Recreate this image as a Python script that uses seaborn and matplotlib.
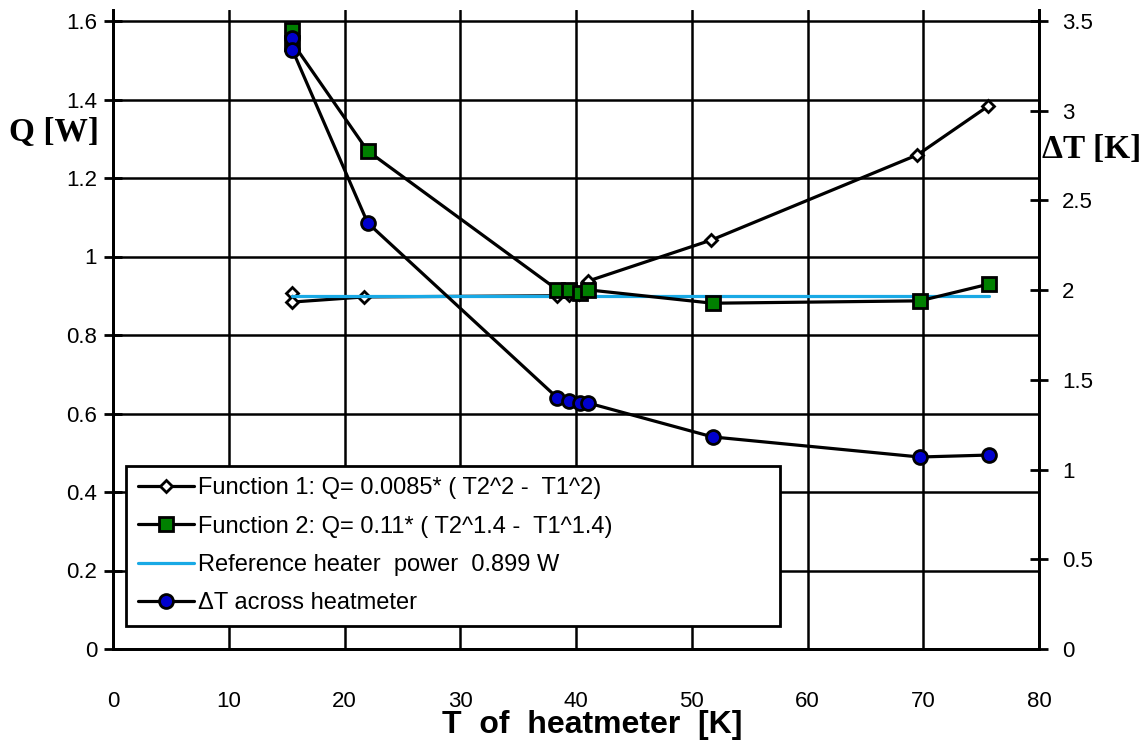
import numpy as np
import matplotlib
matplotlib.use('Agg')
import matplotlib.pyplot as plt
import seaborn as sns
from matplotlib.font_manager import FontProperties

# Datos
T_f1 = [15.5, 15.5, 21.7, 38.4, 39.4, 40.3, 41.0, 51.7, 69.5, 75.6]
Q_f1 = [0.907, 0.884, 0.897, 0.900, 0.903, 0.905, 0.937, 1.042, 1.259, 1.383]

T_f2 = [15.5, 15.5, 22.0, 38.4, 39.4, 40.35, 41.05, 51.8, 69.7, 75.7]
Q_f2 = [1.578, 1.545, 1.269, 0.915, 0.915, 0.907, 0.915, 0.881, 0.887, 0.930]

T_ref = [15.5, 75.7]
Q_ref = [0.899, 0.899]

T_dt = [15.5, 15.5, 22.0, 38.4, 39.4, 40.35, 41.05, 51.8, 69.7, 75.7]
dT = [3.406, 3.339, 2.375, 1.399, 1.383, 1.371, 1.371, 1.182, 1.070, 1.081]

x_ticks = [0, 10, 20, 30, 40, 50, 60, 70, 80]
q_ticks = [0, 0.2, 0.4, 0.6, 0.8, 1.0, 1.2, 1.4, 1.6]
q_labels = ['0', '0.2', '0.4', '0.6', '0.8', '1', '1.2', '1.4', '1.6']
dt_ticks = [0, 0.5, 1, 1.5, 2, 2.5, 3, 3.5]
dt_labels = ['0', '0.5', '1', '1.5', '2', '2.5', '3', '3.5']

labels = ['Function 1: Q= 0.0085* ( T2^2 -  T1^2)',
          'Function 2: Q= 0.11* ( T2^1.4 -  T1^1.4)',
          'Reference heater  power  0.899 W',
          '\u0394T across heatmeter']

sns.set_style('white')
plt.rcParams['font.family'] = ['Liberation Sans', 'DejaVu Sans']
plt.rcParams['text.color'] = 'black'
plt.rcParams['axes.labelcolor'] = 'black'
plt.rcParams['xtick.color'] = 'black'
plt.rcParams['ytick.color'] = 'black'

fig = plt.figure(figsize=(11.48, 7.47), dpi=100)
ax = fig.add_axes([113/1148, 98/747, 926/1148, 639/747])
ax2 = ax.twinx()

lw = 2.3
sns.lineplot(x=T_f1, y=Q_f1, ax=ax, sort=False, estimator=None, color='black', lw=lw,
             marker='D', markersize=6.5, markerfacecolor='white', markeredgecolor='black',
             mew=2, label=labels[0], zorder=3, legend=False)
sns.lineplot(x=T_ref, y=Q_ref, ax=ax, sort=False, estimator=None, color='#19a9e5', lw=2.3,
             label=labels[2], zorder=4, legend=False)
sns.lineplot(x=T_f2, y=Q_f2, ax=ax, sort=False, estimator=None, color='black', lw=lw,
             marker='s', markersize=10, markerfacecolor='#008000', markeredgecolor='black',
             mew=2, label=labels[1], zorder=5, legend=False)
sns.lineplot(x=T_dt, y=dT, ax=ax2, sort=False, estimator=None, color='black', lw=lw,
             marker='o', markersize=10, markerfacecolor='#0000cc', markeredgecolor='black',
             mew=2, label=labels[3], zorder=5, legend=False)

ax.set_xlim(0, 80)
ax.set_ylim(0, 1.6 * 639 / 628)
ax2.set_ylim(0, 3.5 * 639 / 628)

ax.set_xticks(x_ticks)
ax.set_xticklabels([str(t) for t in x_ticks])
ax.set_yticks(q_ticks)
ax.set_yticklabels(q_labels)
ax2.set_yticks(dt_ticks)
ax2.set_yticklabels(dt_labels)

ax.grid(True, color='black', lw=1.8)
ax.set_axisbelow(True)

for a in (ax, ax2):
    a.spines['top'].set_visible(False)
    for s in ('left', 'right', 'bottom'):
        a.spines[s].set_color('black')
        a.spines[s].set_linewidth(2)

ax.tick_params(axis='x', direction='out', length=9, width=2, pad=21, labelsize=16, colors='black')
ax.tick_params(axis='y', direction='inout', length=13, width=2, pad=5, labelsize=16, colors='black')
ax2.tick_params(axis='y', direction='inout', length=13, width=2, pad=10, labelsize=16, colors='black')

ax.set_xlabel('T  of  heatmeter  [K]', fontsize=23, fontweight='bold', va='center')
ax.xaxis.set_label_coords((592 - 113) / 926, -(725 - 649) / 639)
ax.set_ylabel('')
ax2.set_ylabel('')

fig.text(54/1148, 1 - 133/747, 'Q [W]', fontsize=24, fontweight='bold',
         family=['Liberation Serif', 'DejaVu Serif'], ha='center', va='center')
fig.text(1092/1148, 1 - 150/747, '\u0394T [K]', fontsize=24, fontweight='bold',
         family=['Liberation Serif', 'DejaVu Serif'], ha='center', va='center')

h1, l1 = ax.get_legend_handles_labels()
h2, l2 = ax2.get_legend_handles_labels()
hmap = dict(zip(l1 + l2, h1 + h2))
handles = [hmap[l] for l in labels]
leg = ax2.legend(handles, labels, loc='lower left', mode='expand',
                 bbox_to_anchor=((126 - 113) / 926, (649 - 626) / 639, (780 - 126) / 926, 0.2),
                 prop=FontProperties(family=['Liberation Sans'], size=17),
                 frameon=True, fancybox=False, framealpha=1, edgecolor='black',
                 handlelength=2.4, handletextpad=0.17, labelspacing=0.69,
                 borderaxespad=0, borderpad=0.5)
leg.get_frame().set_linewidth(2)
leg.set_zorder(10)

fig.savefig('out.png', dpi=100)
